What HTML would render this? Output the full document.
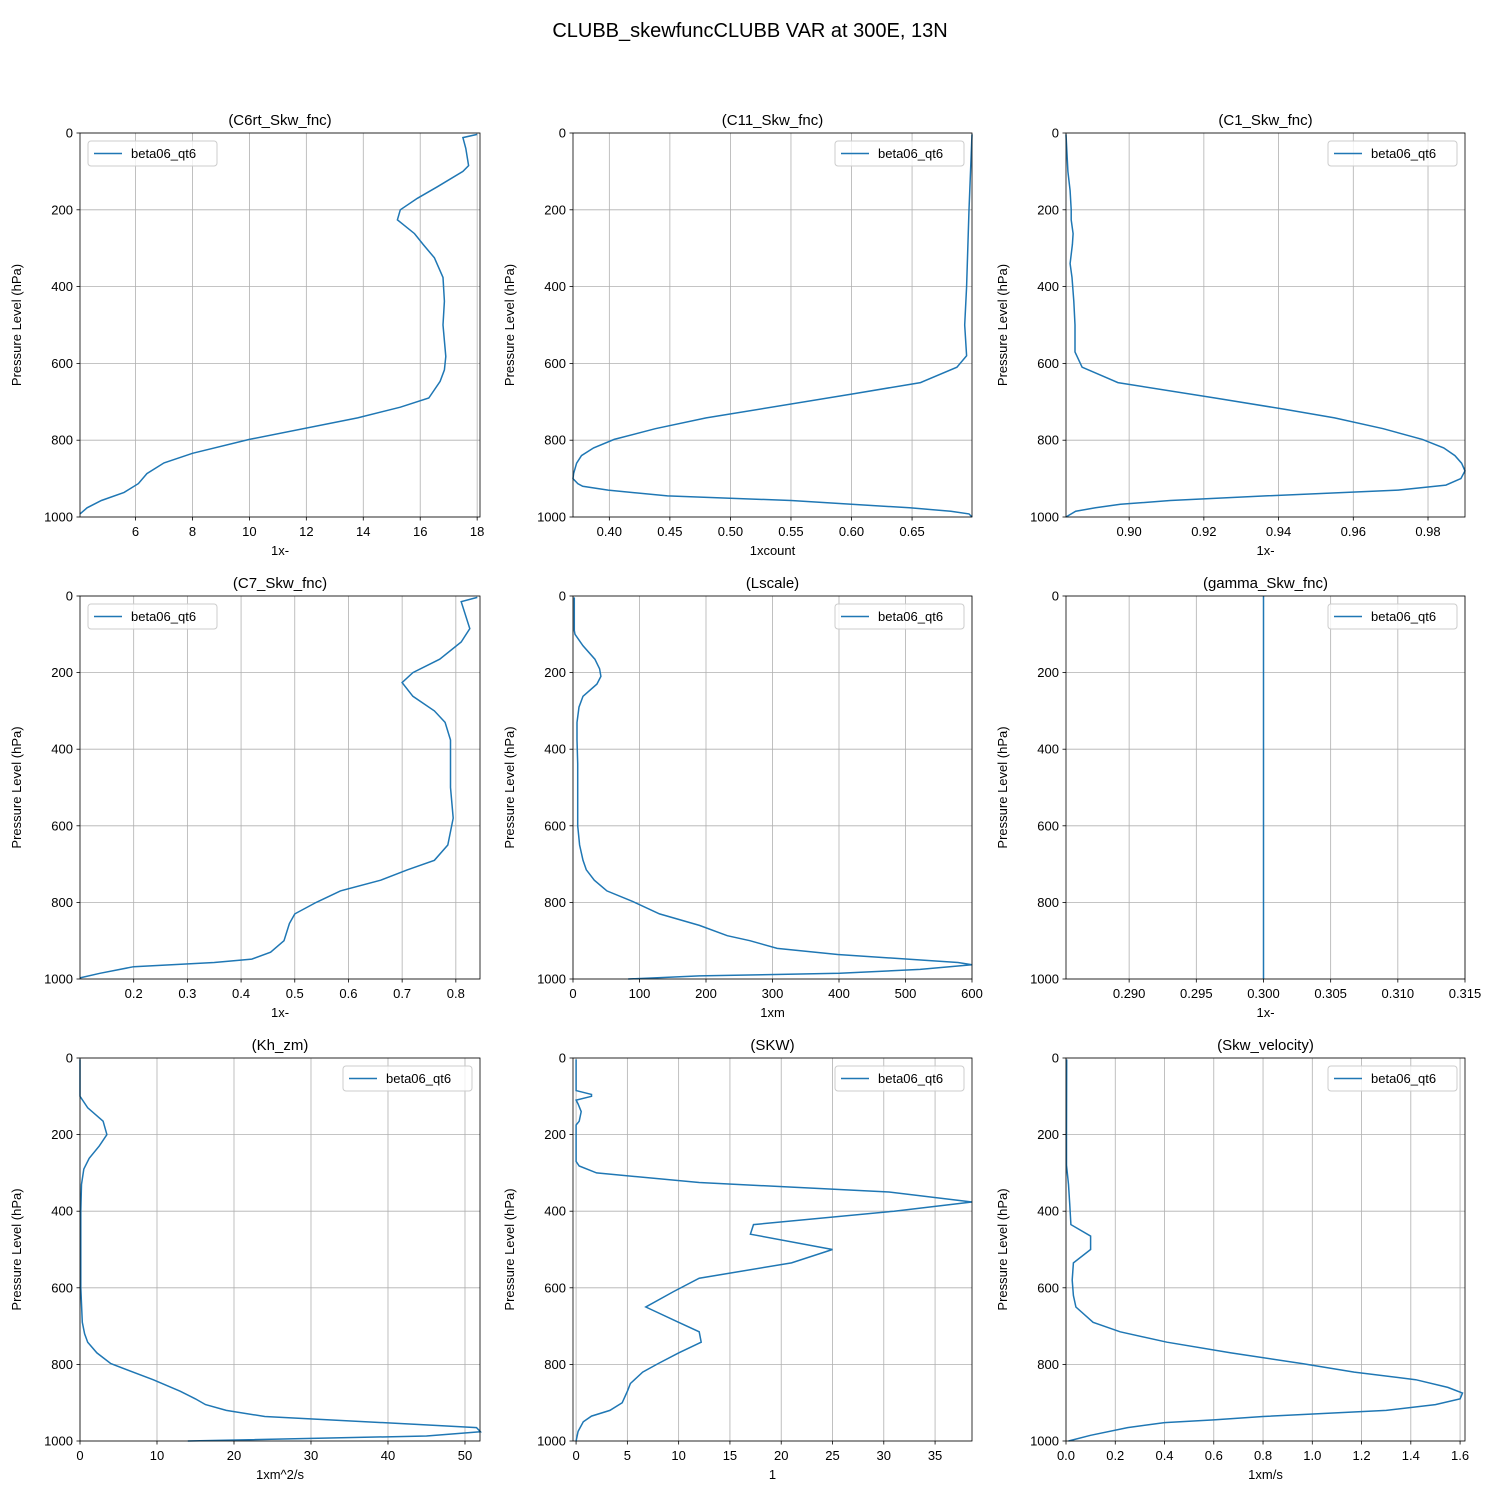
<!DOCTYPE html>
<html><head><meta charset="utf-8"><style>
body{margin:0;background:#fff;}
svg{display:block;font-family:"Liberation Sans","DejaVu Sans",sans-serif;}
</style></head><body>
<svg id="fig" width="1500" height="1500" viewBox="0 0 1500 1500">
<text x="750" y="37" text-anchor="middle" font-size="20">CLUBB_skewfuncCLUBB VAR at 300E, 13N</text>
</svg>
<script>
// ---- data ----
const c6P=[3.6,12,40,85,100,140,170,200,226,262,290,325,376,438,500,582,617,647,690,714,742,798,834,859,887,913,936,957,976,992];
const c6V=[18.0,17.5,17.6,17.7,17.5,16.6,15.9,15.3,15.2,15.8,16.1,16.5,16.8,16.85,16.8,16.9,16.85,16.7,16.3,15.3,13.8,10.0,8.0,7.0,6.4,6.1,5.6,4.8,4.3,4.05];
const c11P=[3.6,200,400,500,580,610,650,680,742,770,798,820,840,860,887,900,913,920,930,945,957,967,976,985,992,1000];
const c11V=[0.6995,0.697,0.695,0.6935,0.695,0.687,0.657,0.600,0.480,0.438,0.404,0.387,0.377,0.373,0.3705,0.370,0.374,0.378,0.399,0.448,0.550,0.600,0.648,0.682,0.697,0.6995];
const c1P=[3.6,100,150,200,226,262,290,340,376,438,500,570,610,650,690,720,742,770,798,820,840,860,880,900,917,930,945,957,967,976,985,1000];
const c1V=[0.8831,0.8836,0.8842,0.8845,0.8845,0.885,0.8848,0.8842,0.8847,0.8852,0.8855,0.8855,0.8874,0.8970,0.9230,0.9420,0.9550,0.9680,0.9785,0.9842,0.9872,0.9890,0.9899,0.9888,0.9848,0.9720,0.9365,0.9110,0.8977,0.8910,0.8857,0.8831];
const c7P=[3.6,15,85,120,165,200,226,262,300,330,376,500,580,650,690,715,742,770,800,830,855,900,930,948,957,968,985,997];
const c7V=[0.84,0.81,0.826,0.81,0.77,0.72,0.70,0.72,0.76,0.78,0.79,0.79,0.795,0.785,0.76,0.71,0.66,0.585,0.54,0.50,0.49,0.48,0.455,0.42,0.35,0.2,0.137,0.1];
const lsP=[3.6,90,100,130,165,190,210,230,262,290,330,376,438,500,600,650,690,715,742,770,798,830,860,887,900,920,936,957,963,975,985,992,1000];
const lsV=[2,2,3,15,33,40,42,36,15,9,6,6,7,7,7,10,15,20,32,51,90,130,190,232,266,307,398,579,600,522,401,190,83];
const gaP=[0,1000];
const gaV=[0.3,0.3];
const khP=[3.6,100,130,165,200,230,262,290,330,400,500,600,690,720,742,770,798,840,870,890,905,920,936,957,965,976,987,1000];
const khV=[0,0,1,3,3.5,2.5,1.2,0.5,0.2,0.1,0.1,0.1,0.3,0.6,1,2.2,4,9.5,13,15,16.3,19,24,44,51.5,52,45,14];
const skP=[3.6,85,95,100,110,120,140,165,175,270,282,300,325,350,376,400,435,460,500,535,575,610,650,690,715,742,770,798,820,850,870,900,920,935,950,975,1000];
const skV=[0,0,1.5,1.5,0,0.2,0.5,0.3,0,0,0.3,2,12,30.5,38.6,31,17.3,17,25,21,12,9.5,6.8,10,12,12.2,10,8,6.5,5.3,5,4.5,3.3,1.5,0.7,0.2,0];
const svP=[3.6,200,280,330,380,435,465,500,535,580,620,650,690,715,742,770,798,820,840,860,875,890,905,920,936,945,952,965,985,1000];
const svV=[0.003,0.002,0.002,0.01,0.015,0.02,0.1,0.1,0.03,0.025,0.03,0.04,0.11,0.22,0.41,0.67,0.96,1.17,1.42,1.55,1.61,1.6,1.5,1.3,0.8,0.6,0.4,0.25,0.1,0.01];
const yTicks=[0,200,400,600,800,1000];
// ---- layout ----
const cols=[[80,480],[573,972],[1066,1465]];
const rows=[[133,517],[596,979],[1058,1441]];
const panels=[
 {t:'(C6rt_Skw_fnc)',P:c6P,V:c6V,xl:[4.05,18.1],tk:[6,8,10,12,14,16,18],d:0,lab:'1x-',leg:'l',name:'c6rt'},
 {t:'(C11_Skw_fnc)',P:c11P,V:c11V,xl:[0.370,0.6995],tk:[0.40,0.45,0.50,0.55,0.60,0.65],d:2,lab:'1xcount',leg:'r',name:'c11'},
 {t:'(C1_Skw_fnc)',P:c1P,V:c1V,xl:[0.8831,0.9899],tk:[0.90,0.92,0.94,0.96,0.98],d:2,lab:'1x-',leg:'r',name:'c1'},
 {t:'(C7_Skw_fnc)',P:c7P,V:c7V,xl:[0.1,0.845],tk:[0.2,0.3,0.4,0.5,0.6,0.7,0.8],d:1,lab:'1x-',leg:'l',name:'c7'},
 {t:'(Lscale)',P:lsP,V:lsV,xl:[0,600],tk:[0,100,200,300,400,500,600],d:0,lab:'1xm',leg:'r',name:'lscale'},
 {t:'(gamma_Skw_fnc)',P:gaP,V:gaV,xl:[0.2853,0.315],tk:[0.290,0.295,0.300,0.305,0.310,0.315],d:3,lab:'1x-',leg:'r',name:'gamma'},
 {t:'(Kh_zm)',P:khP,V:khV,xl:[0,51.95],tk:[0,10,20,30,40,50],d:0,lab:'1xm^2/s',leg:'r',name:'kh-zm'},
 {t:'(SKW)',P:skP,V:skV,xl:[-0.3,38.6],tk:[0,5,10,15,20,25,30,35],d:0,lab:'1',leg:'r',name:'skw'},
 {t:'(Skw_velocity)',P:svP,V:svV,xl:[0,1.62],tk:[0,0.2,0.4,0.6,0.8,1.0,1.2,1.4,1.6],d:1,lab:'1xm/s',leg:'r',name:'skw-velocity'}
];
const NS='http://www.w3.org/2000/svg';
const svg=document.getElementById('fig');
function mk(tag,attrs,parent,txt){const e=document.createElementNS(NS,tag);for(const k in attrs)e.setAttribute(k,attrs[k]);if(txt!==undefined)e.textContent=txt;parent.appendChild(e);return e;}
panels.forEach((pn,i)=>{
 const [x0,x1]=cols[i%3],[y0,y1]=rows[Math.floor(i/3)];
 const xs=v=>x0+(v-pn.xl[0])/(pn.xl[1]-pn.xl[0])*(x1-x0);
 const ys=p=>y0+p/1000*(y1-y0);
 const g=mk('g',{},svg);
 
 
 // grid
 yTicks.forEach(t=>{const l=mk('line',{x1:x0,x2:x1,y1:ys(t),y2:ys(t),stroke:'#b0b0b0','stroke-width':0.8},g);
  });
 pn.tk.forEach(t=>{const l=mk('line',{x1:xs(t),x2:xs(t),y1:y0,y2:y1,stroke:'#b0b0b0','stroke-width':0.8},g);
  });
 // series
 const pts=pn.P.map((p,k)=>xs(pn.V[k]).toFixed(1)+','+ys(p).toFixed(1)).join(' ');
 const ln=mk('polyline',{points:pts,fill:'none',stroke:'#1f77b4','stroke-width':1.5},g);
 
 
 // frame
 const fr=mk('rect',{x:x0,y:y0,width:x1-x0,height:y1-y0,fill:'none',stroke:'#000','stroke-width':0.8},g);
 
 // y ticks
 yTicks.forEach(t=>{mk('line',{x1:x0-3.5,x2:x0,y1:ys(t),y2:ys(t),stroke:'#000','stroke-width':0.8},g);
  const tx=mk('text',{x:x0-7,y:ys(t)+4.5,'text-anchor':'end','font-size':13},g,String(t));
  });
 pn.tk.forEach(t=>{mk('line',{x1:xs(t),x2:xs(t),y1:y1,y2:y1+3.5,stroke:'#000','stroke-width':0.8},g);
  const tx=mk('text',{x:xs(t),y:y1+19,'text-anchor':'middle','font-size':13},g,t.toFixed(pn.d));
  });
 const tt=mk('text',{x:(x0+x1)/2,y:y0-8,'text-anchor':'middle','font-size':15},g,pn.t);
 
 const xl=mk('text',{x:(x0+x1)/2,y:y1+38,'text-anchor':'middle','font-size':13},g,pn.lab);
 
 const yl=mk('text',{x:0,y:0,'text-anchor':'middle','font-size':13,transform:`translate(${x0-59},${(y0+y1)/2}) rotate(-90)`},g,'Pressure Level (hPa)');
 
 // legend
 const lw=129, lx=pn.leg==='l'?x0+8:x1-8-lw, ly=y0+8;
 const lg=mk('g',{},g);
 
 mk('rect',{x:lx,y:ly,width:lw,height:25,rx:3,fill:'#fff','fill-opacity':0.8,stroke:'#ccc','stroke-width':1},lg);
 mk('line',{x1:lx+6,x2:lx+34,y1:ly+12.5,y2:ly+12.5,stroke:'#1f77b4','stroke-width':1.5},lg);
 const lt=mk('text',{x:lx+43,y:ly+17,'font-size':13},lg,'beta06_qt6');
 
});
</script>
</body></html>
